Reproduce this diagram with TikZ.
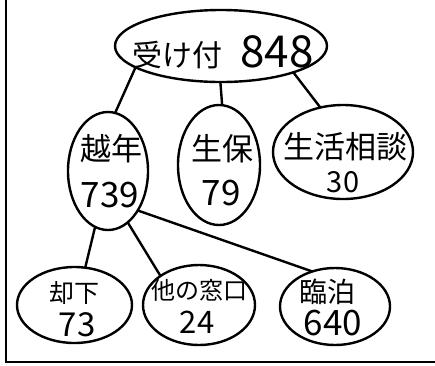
\documentclass[tikz,border=0pt]{standalone}
\usepackage{fontspec}
\newfontfamily\jp{Noto Sans CJK JP}
\usetikzlibrary{shapes.geometric}
\begin{document}
\begin{tikzpicture}[x=1pt,y=-1pt,line width=2.4pt,
  bub/.style={draw,ellipse,inner sep=0pt,outer sep=0pt},
  txt/.style={inner sep=0pt,font=\jp}]
\useasboundingbox (0,0) rectangle (435,365);
\coordinate (ctop) at (6,0);
\coordinate (ccorner) at (6,362);
\coordinate (cright) at (435,362);
\draw[line width=2pt] (ctop) -- (ccorner) -- (cright);
% bubbles
\node[bub,minimum width=212pt,minimum height=72pt] (top) at (221,46) {};
\node[bub,minimum width=80pt,minimum height=118pt] (koshi) at (108,171) {};
\node[bub,minimum width=82pt,minimum height=120pt] (seiho) at (219,165) {};
\node[bub,minimum width=140pt,minimum height=94pt] (seikatsu) at (343,152) {};
\node[bub,minimum width=115pt,minimum height=76pt] (kyakka) at (74.5,305) {};
\node[bub,minimum width=112pt,minimum height=80pt] (tano) at (199,305) {};
\node[bub,minimum width=110pt,minimum height=77pt] (rinpaku) at (335,306.5) {};
% texts
\node[txt,font=\jp\fontsize{30}{32}\selectfont] (t0) at (177,55) {受け付};
\node[txt,font=\jp\fontsize{44}{46}\selectfont] (n0) at (277,52) {848};
\node[txt,font=\jp\fontsize{31}{33}\selectfont] (t1) at (111,149) {越年};
\node[txt,font=\jp\fontsize{35}{37}\selectfont] (n1) at (110,195) {739};
\node[txt,font=\jp\fontsize{31}{33}\selectfont] (t2) at (222,149) {生保};
\node[txt,font=\jp\fontsize{35}{37}\selectfont] (n2) at (221,193) {79};
\node[txt,font=\jp\fontsize{31}{33}\selectfont] (t3) at (345,147) {生活相談};
\node[txt,font=\jp\fontsize{29}{31}\selectfont] (n3) at (343,182) {30};
\node[txt,font=\jp\fontsize{25}{27}\selectfont] (t4) at (74,293) {却下};
\node[txt,font=\jp\fontsize{33}{35}\selectfont] (n4) at (77,325) {73};
\node[txt,font=\jp\fontsize{24}{26}\selectfont] (t5) at (199,290) {他の窓口};
\node[txt,font=\jp\fontsize{31}{33}\selectfont] (n5) at (197,322) {24};
\node[txt,font=\jp\fontsize{28}{30}\selectfont] (t6) at (327,292) {臨泊};
\node[txt,font=\jp\fontsize{35}{37}\selectfont] (n6) at (333,323) {640};
% connectors
\draw (top.194) -- (koshi.83);
\draw (top.269) -- (seiho.87);
\draw (top.340) -- (seikatsu.117);
\draw (koshi.257) -- (kyakka.74);
\draw (koshi.291) -- (tano.143);
\draw (koshi.307) -- (rinpaku.123);
\end{tikzpicture}
\end{document}
